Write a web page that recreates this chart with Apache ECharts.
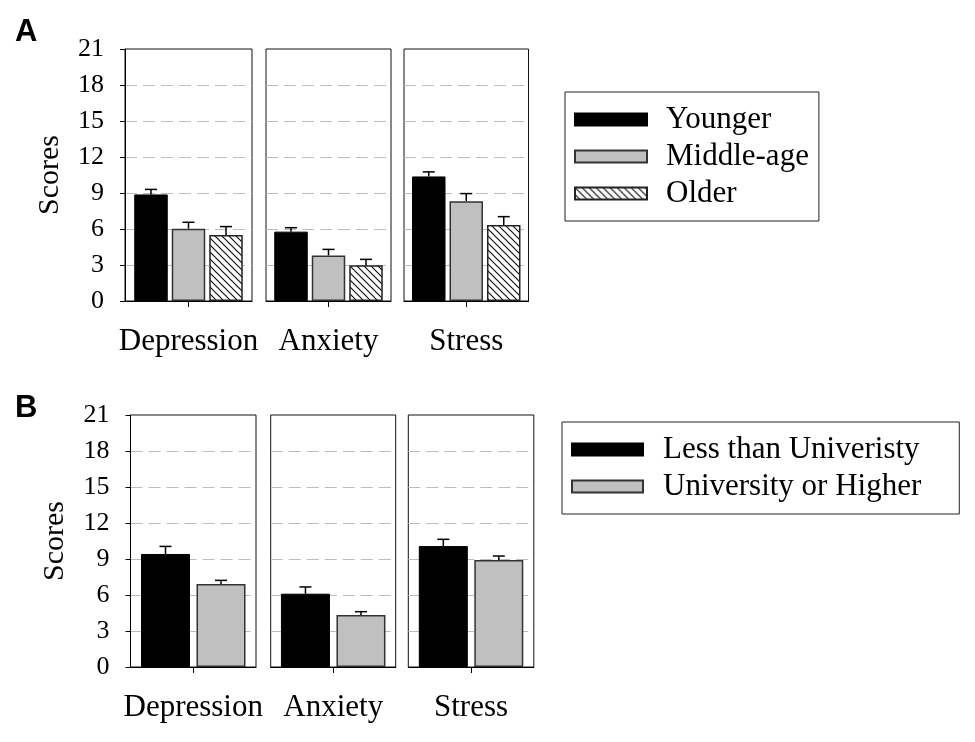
<!DOCTYPE html>
<html><head><meta charset="utf-8">
<script src="https://cdn.jsdelivr.net/npm/echarts@6/dist/echarts.min.js"></script>
<style>html,body{margin:0;padding:0;background:#fff}#c{width:975px;height:742px}</style>
</head><body><div id="c"></div>
<script>
// ---- data ----
const measures = ['Depression', 'Anxiety', 'Stress'];
const ageGroups = ['Younger', 'Middle-age', 'Older'];
const youngerMean = [8.88, 5.78, 10.38];
const youngerSE   = [0.42, 0.33, 0.38];
const middleMean  = [6.03, 3.80, 8.31];
const middleSE    = [0.53, 0.50, 0.64];
const olderMean   = [5.50, 2.97, 6.33];
const olderSE     = [0.70, 0.50, 0.70];
const eduGroups = ['Less than Univeristy', 'University or Higher'];
const lessUniMean = [9.42, 6.11, 10.08];
const lessUniSE   = [0.63, 0.56, 0.56];
const uniMean     = [6.92, 4.33, 8.92];
const uniSE       = [0.30, 0.28, 0.33];
const yMin = 0, yMax = 21, yStep = 3;
const panelLabels = ['A', 'B'];
const yAxisName = 'Scores';

// ---- styles ----
const SERIF = '"Liberation Serif", "Times New Roman", serif';
function hatch() {
  const s = 7, c = document.createElement('canvas');
  c.width = s; c.height = s;
  const g = c.getContext('2d');
  g.fillStyle = '#fff'; g.fillRect(0, 0, s, s);
  g.strokeStyle = '#111'; g.lineWidth = 1.2;
  g.beginPath();
  g.moveTo(0, 0); g.lineTo(s, s);
  g.moveTo(-1, s - 1); g.lineTo(1, s + 1);
  g.moveTo(s - 1, -1); g.lineTo(s + 1, 1);
  g.stroke();
  return c;
}
const blackStyle = { color: '#000', borderColor: '#000', borderWidth: 1 };
const grayStyle = { color: '#c0c0c0', borderColor: '#333', borderWidth: 1.5 };
const hatchStyle = { color: { image: hatch(), repeat: 'repeat' }, borderColor: '#222', borderWidth: 1.5 };

const rows = [
  { top: 49, height: 252, lefts: [125, 266, 404], widths: [127, 125, 124.5], bw: 33.5, gap: 4,
    groups: ageGroups, means: [youngerMean, middleMean, olderMean], ses: [youngerSE, middleSE, olderSE],
    styles: [blackStyle, grayStyle, hatchStyle] },
  { top: 415, height: 252, lefts: [130.5, 270.7, 408.3], widths: [125.5, 125, 125.5], bw: 49, gap: 6.5,
    groups: eduGroups, means: [lessUniMean, uniMean], ses: [lessUniSE, uniSE],
    styles: [blackStyle, grayStyle] }
];

const grid = [], xAxis = [], yAxis = [], series = [];
rows.forEach((row, r) => {
  measures.forEach((m, k) => {
    const idx = grid.length;
    const first = k === 0;
    grid.push({ left: row.lefts[k], top: row.top, width: row.widths[k], height: row.height,
      show: true, borderColor: '#111', borderWidth: 1, backgroundColor: 'transparent' });
    xAxis.push({ type: 'category', gridIndex: idx, data: [m],
      axisLine: { show: true, lineStyle: { color: '#000', width: 1 } },
      axisTick: { show: true, alignWithLabel: true, length: 6, lineStyle: { color: '#000' } },
      axisLabel: { show: true, color: '#000', fontFamily: SERIF, fontSize: 31, margin: 25 },
      splitLine: { show: false } });
    yAxis.push({ type: 'value', gridIndex: idx, min: yMin, max: yMax, interval: yStep,
      name: first ? yAxisName : '', nameLocation: 'middle', nameGap: 60, nameRotate: 90,
      nameTextStyle: { color: '#000', fontFamily: SERIF, fontSize: 30 },
      axisLine: { show: first, lineStyle: { color: '#000', width: 1 } },
      axisTick: { show: first, inside: false, length: 5, lineStyle: { color: '#000' } },
      axisLabel: { show: first, color: '#000', fontFamily: SERIF, fontSize: 26, margin: 21 },
      splitLine: { show: true, showMinLine: false, showMaxLine: false,
        lineStyle: { color: '#bdbdbd', width: 1, type: [12, 6] } } });
    const n = row.groups.length;
    row.groups.forEach((g, gi) => {
      series.push({ type: 'bar', name: g, xAxisIndex: idx, yAxisIndex: idx,
        data: [row.means[gi][k]], barWidth: row.bw, barGap: (row.gap / row.bw * 100) + '%',
        itemStyle: row.styles[gi], silent: true, z: 2 });
    });
    series.push({ type: 'custom', name: 'error-' + idx, xAxisIndex: idx, yAxisIndex: idx, z: 5, silent: true,
      encode: { x: 0, y: [1, 2] },
      data: row.groups.map((g, gi) => [0, row.means[gi][k], row.means[gi][k] + row.ses[gi][k]]),
      renderItem: function (params, api) {
        const gi = params.dataIndex;
        const base = api.coord([api.value(0), api.value(1)]);
        const top = api.coord([api.value(0), api.value(2)]);
        const x = base[0] + (gi - (n - 1) / 2) * (row.bw + row.gap);
        const st = { stroke: '#000', lineWidth: 1.5 };
        return { type: 'group', children: [
          { type: 'line', shape: { x1: x, y1: base[1], x2: x, y2: top[1] }, style: st },
          { type: 'line', shape: { x1: x - 6, y1: top[1], x2: x + 6, y2: top[1] }, style: st }
        ] };
      } });
  });
});

const option = {
  animation: false,
  backgroundColor: '#fff',
  title: [
    { text: panelLabels[0], left: 15, top: 17, padding: 0,
      textStyle: { fontFamily: '"Liberation Sans", Arial, sans-serif', fontWeight: 'bold', fontSize: 31, color: '#000' } },
    { text: panelLabels[1], left: 15, top: 393, padding: 0,
      textStyle: { fontFamily: '"Liberation Sans", Arial, sans-serif', fontWeight: 'bold', fontSize: 31, color: '#000' } }
  ],
  legend: [
    { data: ageGroups, orient: 'vertical', left: 565, top: 92, icon: 'rect',
      itemWidth: 72, itemHeight: 12, itemGap: 6, padding: [12, 10, 12, 9],
      borderColor: '#222', borderWidth: 1, selectedMode: false,
      textStyle: { fontFamily: SERIF, fontSize: 31, lineHeight: 31, color: '#000', padding: [0, 0, 0, 14] } },
    { data: eduGroups, orient: 'vertical', left: 562, top: 422, icon: 'rect',
      itemWidth: 71, itemHeight: 12, itemGap: 6, padding: [12, 38, 12, 9],
      borderColor: '#222', borderWidth: 1, selectedMode: false,
      textStyle: { fontFamily: SERIF, fontSize: 31, lineHeight: 31, color: '#000', padding: [0, 0, 0, 15] } }
  ],
  grid, xAxis, yAxis, series
};
const chart = echarts.init(document.getElementById('c'), null, { renderer: 'canvas' });
chart.setOption(option);
</script></body></html>
